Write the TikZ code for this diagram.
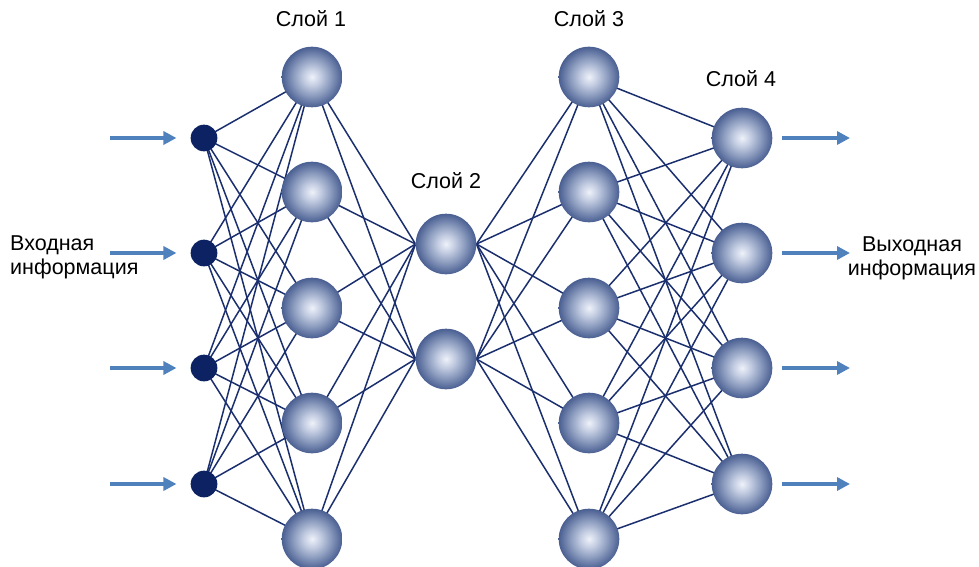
\documentclass[tikz,border=0pt]{standalone}
\usepackage{fontspec}
\setmainfont{Liberation Sans}
\usetikzlibrary{arrows.meta}

\definecolor{wire}{HTML}{1B2F6E}
\definecolor{inputdot}{HTML}{0C2262}
\definecolor{flowblue}{HTML}{4F81BD}
\definecolor{ballhi}{HTML}{EEF2F9}
\definecolor{ballmid}{HTML}{C4CDE2}
\definecolor{balllow}{HTML}{8E9EC0}
\definecolor{balledge}{HTML}{4A5F92}

% radial fill of a neuron; 25bp is the rim of the circle
\pgfdeclareradialshading{neuronball}{\pgfpoint{0bp}{0bp}}{%
  color(0bp)=(ballhi); color(7bp)=(ballmid); color(15bp)=(balllow);
  color(25bp)=(balledge); color(50bp)=(balledge)}

\pgfdeclarelayer{wires}
\pgfsetlayers{wires,main}

\begin{document}
\begin{tikzpicture}[x=1pt,y=-1pt,
  neuron/.style={circle, minimum size=60.6pt, inner sep=0pt, shading=neuronball},
  inputnode/.style={circle, minimum size=26.7pt, inner sep=0pt, fill=inputdot},
  link/.style={draw=wire, line width=1.5pt},
  flow/.style={draw=flowblue, line width=4pt,
    -{Triangle[length=13pt,width=13pt]}},
  caption/.style={font=\fontsize{21.5}{24}\selectfont, inner sep=0pt}]

\useasboundingbox (0,0) rectangle (979,567);

% input points
\foreach \i/\y in {1/138,2/253,3/368,4/484}
  \node[inputnode] (in\i) at (204,\y) {};

% layer 1 and layer 3
\foreach \i/\y in {1/77,2/192,3/308,4/423,5/539} {
  \node[neuron] (a\i) at (312,\y) {};
  \node[neuron] (c\i) at (589,\y) {};
}
% layer 2
\node[neuron] (b1) at (446,244) {};
\node[neuron] (b2) at (446,359) {};
% layer 4
\foreach \i/\y in {1/138,2/253,3/368,4/484}
  \node[neuron] (d\i) at (742,\y) {};

% connections, kept behind the neurons
\begin{pgfonlayer}{wires}
  \foreach \i in {1,...,4}
    \foreach \j in {1,...,5}
      \draw[link] (in\i.center) -- (a\j.center);
  \foreach \j in {1,...,5}
    \foreach \k in {1,2}
      \draw[link] (a\j.center) -- (b\k.west);
  \foreach \k in {1,2}
    \foreach \j in {1,...,5}
      \draw[link] (b\k.east) -- (c\j.center);
  \foreach \j in {1,...,5}
    \foreach \m in {1,...,4}
      \draw[link] (c\j.center) -- (d\m.center);
\end{pgfonlayer}

% incoming and outgoing signals
\foreach \i/\y in {1/138,2/253,3/368,4/484} {
  \coordinate (src\i) at (110,\y);
  \coordinate (dst\i) at (850,\y);
  \draw[flow, shorten >=14pt] (src\i) -- (in\i.west);
  \draw[flow, shorten <=9pt] (d\i.east) -- (dst\i);
}

% labels
\node[caption, anchor=base] (l1) at (311,27) {Слой 1};
\node[caption, anchor=base] (l2) at (446,188) {Слой 2};
\node[caption, anchor=base] (l3) at (589,27) {Слой 3};
\node[caption, anchor=base] (l4) at (741,87) {Слой 4};
\node[caption, anchor=base west, align=left] (inlabel) at (10,274)
  {Входная\\информация};
\node[caption, anchor=base, align=center] (outlabel) at (912,275)
  {Выходная\\информация};
\end{tikzpicture}
\end{document}
